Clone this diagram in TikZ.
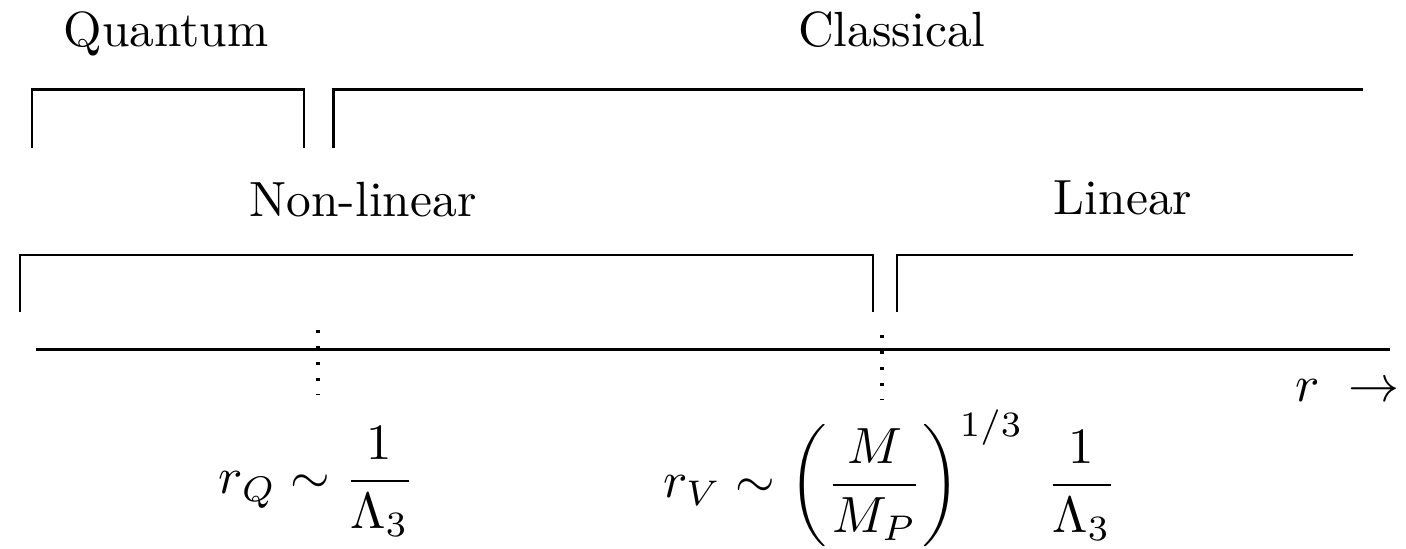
\documentclass[tikz,border=0pt]{standalone}
\usepackage{amsmath,amssymb}
\usepackage{tikz}
\usetikzlibrary{positioning,calc}
\tikzset{
  rangebar/.style={line width=0.6pt,color=black},
  axisline/.style={line width=0.6pt,color=black},
  dotmark/.style={line width=0.7pt,dash pattern=on 0.7pt off 2.6pt},
  rangelabel/.style={anchor=base,inner sep=0pt,font=\normalsize,scale=1.02},
  scalelabel/.style={anchor=base,inner sep=0pt,scale=1.05},
}
\begin{document}
\begin{tikzpicture}
  \useasboundingbox (0,-1.442) rectangle (10.19,2.536);

  % range labels
  \node[rangelabel] (quantum) at (1.203,2.196) {Quantum};
  \node[rangelabel] (classical) at (6.464,2.196) {Classical};
  \node[rangelabel] (nonlin) at (2.631,0.964) {Non-linear};
  \node[rangelabel] (lin) at (8.139,0.978) {Linear};

  % brackets
  \draw[rangebar] (0.232,1.464) -- (0.232,1.884) -- (2.203,1.884) -- (2.203,1.464);
  \draw[rangebar] (2.420,1.464) -- (2.420,1.884) -- (9.878,1.884);
  \draw[rangebar] (0.145,0.275) -- (0.145,0.688) -- (6.327,0.688) -- (6.327,0.275);
  \draw[rangebar] (6.501,0.275) -- (6.501,0.688) -- (9.805,0.688);

  % axis
  \coordinate (axl) at (0.261,0);
  \coordinate (axr) at (10.073,0);
  \draw[axisline] (axl) -- (axr);
  \node[anchor=base east,inner sep=0pt,scale=1.05] (rlab) at (10.146,-0.377) {$r\;\rightarrow$};

  % scale marks
  \coordinate (qtop) at (2.305,0.145);
  \coordinate (qbot) at (2.305,-0.326);
  \coordinate (vtop) at (6.392,0.109);
  \coordinate (vbot) at (6.392,-0.362);
  \draw[dotmark] (qtop) -- (qbot);
  \draw[dotmark] (vtop) -- (vbot);

  \node[scalelabel] (rQ) at (2.297,-1.044) {$\displaystyle r_Q\sim\frac{1}{\Lambda_3}$};
  \node[scalelabel] (rV) at (6.45,-1.073)
    {$\displaystyle r_V\sim\left(\frac{M}{M_P}\right)^{1/3}\;\frac{1}{\Lambda_3}$};
\end{tikzpicture}
\end{document}
